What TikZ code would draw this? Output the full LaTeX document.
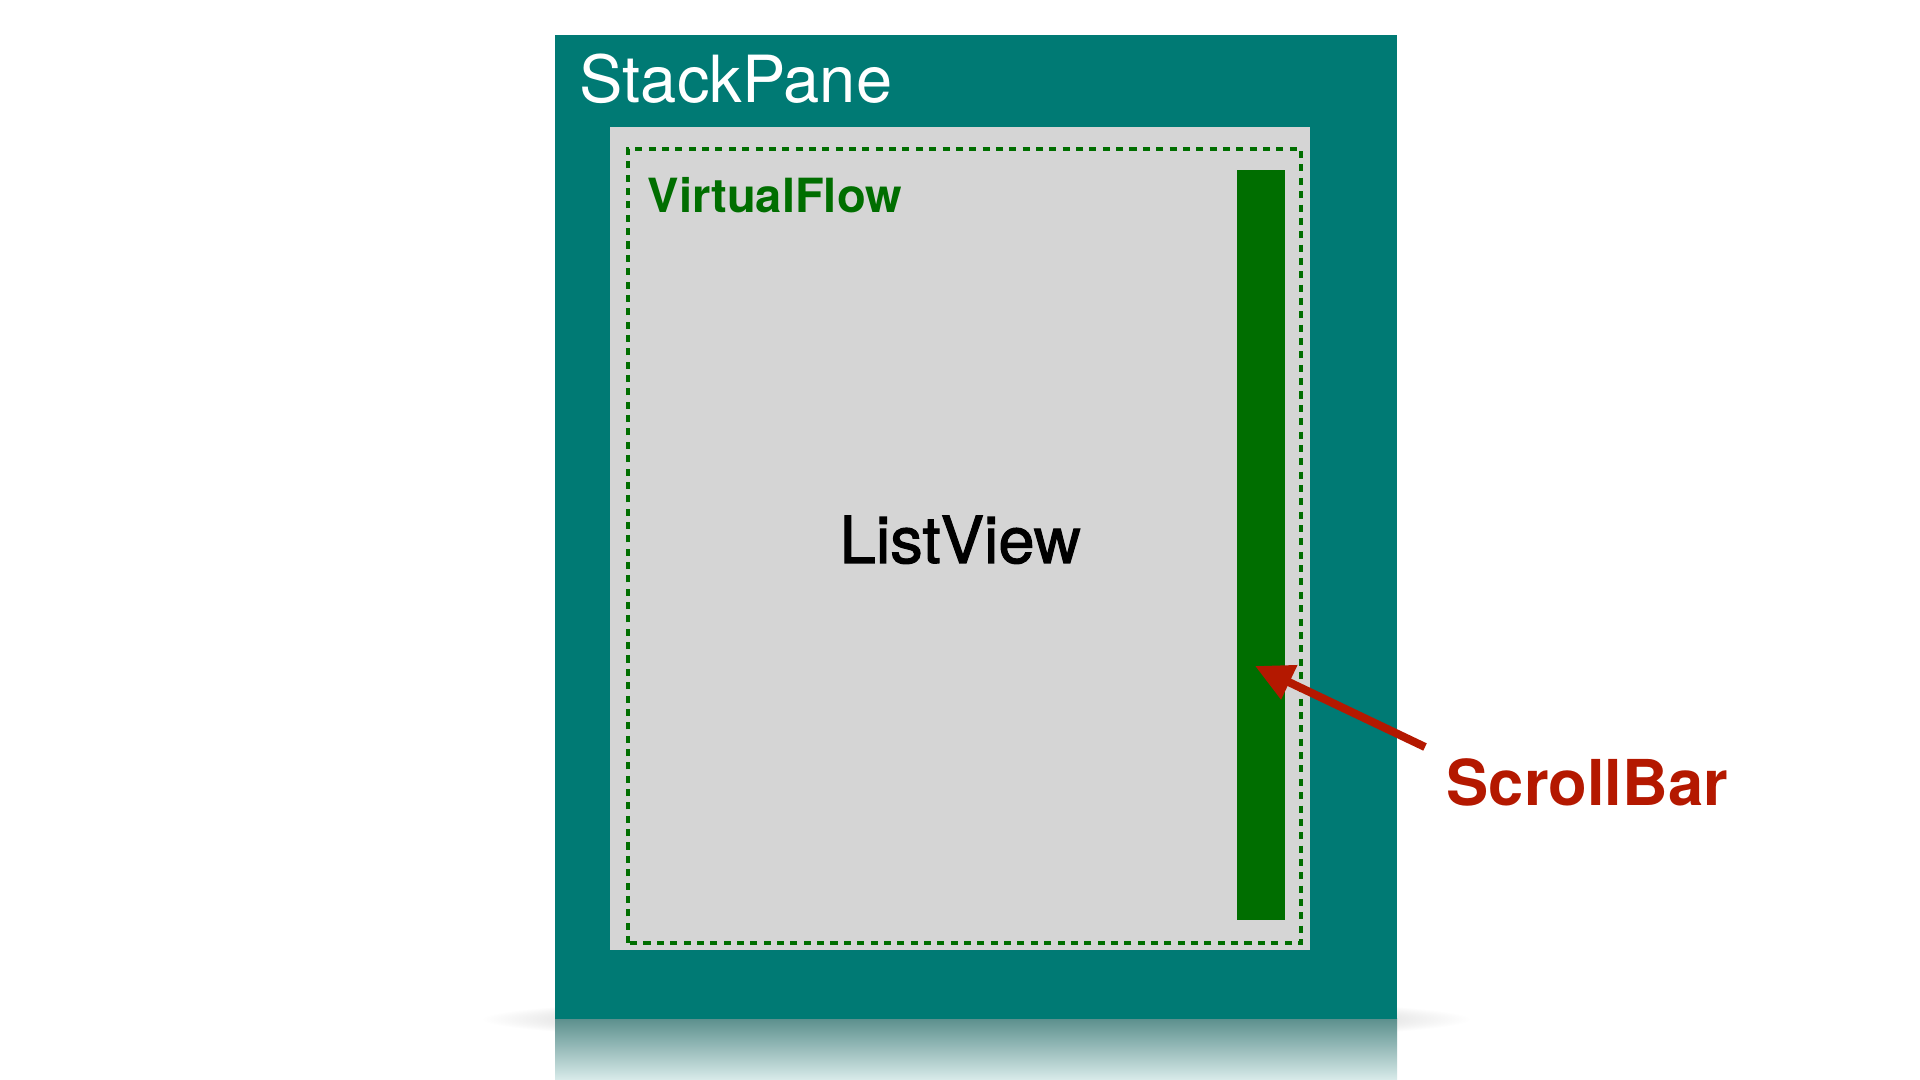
\documentclass[tikz,border=0pt]{standalone}
\usepackage{fontspec}
\setmainfont{TeX Gyre Heros}
\newfontfamily\medfont[FakeBold=1.6]{TeX Gyre Heros}
\definecolor{spteal}{HTML}{007A74}
\definecolor{lvgray}{HTML}{D5D5D5}
\definecolor{vfgreen}{HTML}{006E00}
\definecolor{sbred}{HTML}{B41800}
\usetikzlibrary{arrows.meta,positioning}

\begin{document}
\begin{tikzpicture}[
    lbl/.style={anchor=base west,inner sep=0pt},
    box/.style={anchor=south west,inner sep=0pt,outer sep=0pt}]
  \useasboundingbox[fill=white] (0,0) rectangle (19.2,10.8);
  % shadow and reflection under the pane
  \shade[inner color=black!55,outer color=white] (9.76,0.61) ellipse (4.95 and 0.24);
  \shade[top color=spteal!50!gray!85!white,bottom color=spteal!15!white]
    (5.55,0) rectangle (13.97,0.61);
  % stack pane
  \node[box,fill=spteal,minimum width=8.42cm,minimum height=9.84cm] (pane) at (5.55,0.61) {};
  \node[lbl,text=white,font=\fontsize{18.5}{20}\selectfont] (panelbl) at (5.79,9.77) {StackPane};
  % list view and virtual flow
  \node[box,fill=lvgray,minimum width=7.00cm,minimum height=8.23cm] (list) at (6.10,1.30) {};
  \draw[vfgreen,line width=1.15pt,dash pattern=on 2pt off 1.8pt] (6.28,1.37) rectangle (13.01,9.31);
  \node[lbl,text=vfgreen,font=\fontsize{13.4}{15}\bfseries] (flowlbl) at (6.47,8.67) {VirtualFlow};
  \node[lbl,font=\medfont\fontsize{18.5}{20}\selectfont] (listlbl) at (8.39,5.17) {ListView};
  % scroll bar
  \node[box,fill=vfgreen,minimum width=0.48cm,minimum height=7.50cm] (bar) at (12.37,1.60) {};
  \node[lbl,text=sbred,font=\fontsize{18}{20}\bfseries] (barlbl) at (14.46,2.74) {ScrollBar};
  \coordinate (tail) at (14.25,3.33);
  \coordinate (tip) at (12.55,4.14);
  \draw[sbred,line width=2.3pt,-{Triangle[length=0.38cm,width=0.36cm]}] (tail) -- (tip);
\end{tikzpicture}
\end{document}
